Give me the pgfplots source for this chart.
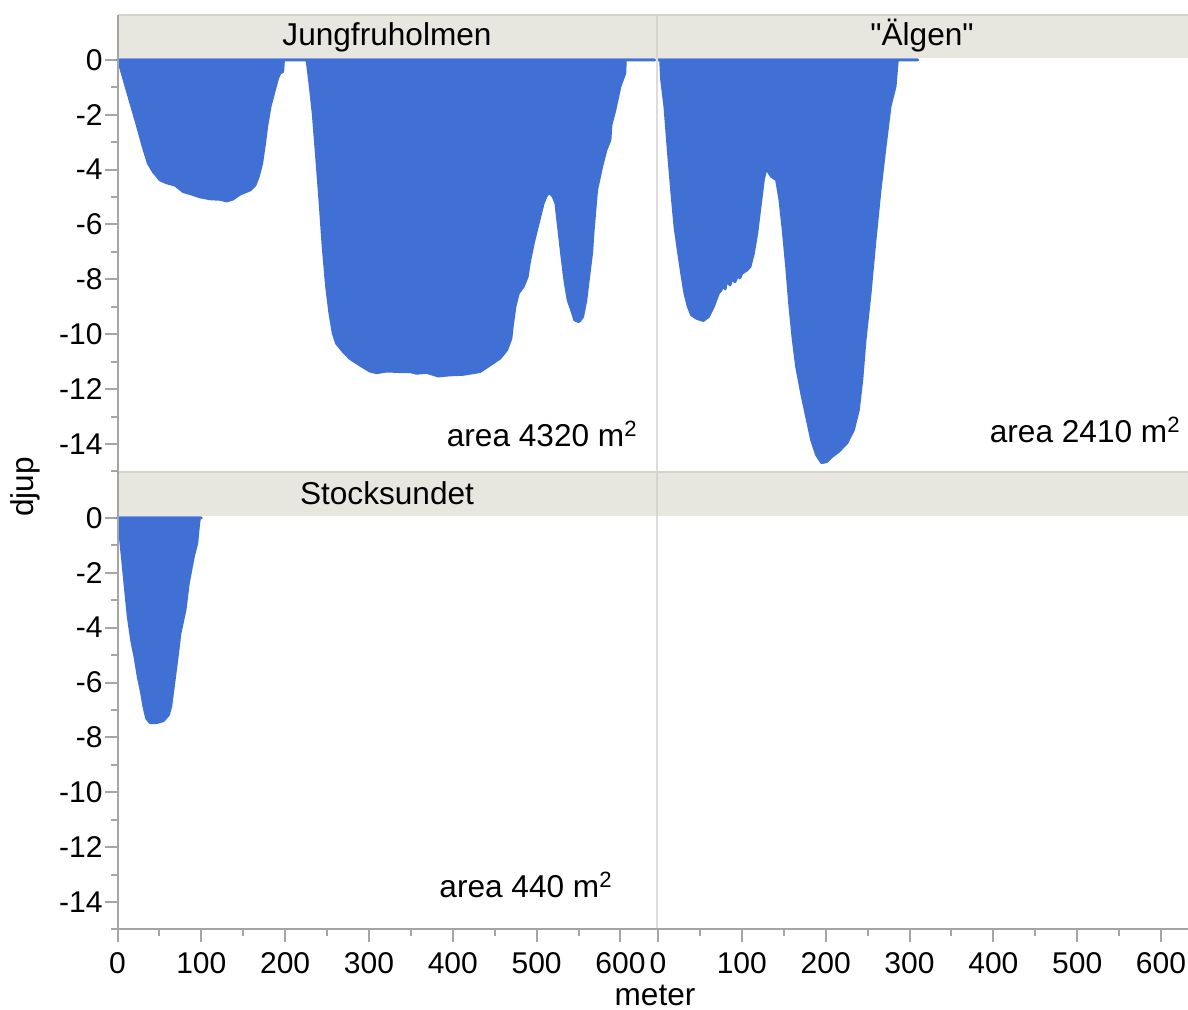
\documentclass[border=0pt]{standalone}
\usepackage{fontspec}
\setmainfont{Liberation Sans}
\usepackage{pgfplots}
\pgfplotsset{compat=1.18}
\definecolor{fillblue}{RGB}{65,112,213}
\definecolor{axgray}{RGB}{165,165,165}
\definecolor{hdrfill}{RGB}{231,231,223}
\definecolor{hdrline}{RGB}{212,212,200}
\definecolor{sepgray}{RGB}{220,220,220}
\newcommand{\fs}{\fontsize{15}{18}\selectfont}
\newcommand{\ft}{\fontsize{15.8}{19}\selectfont}
\pgfplotsset{
  panel/.style={
    scale only axis, clip=false, anchor=south west,
    xmin=0, ymin=-15, ymax=0.07,
    height=206.7pt,
    tick align=outside,
    major tick length=6.5pt, minor tick length=3.5pt,
    tick style={axgray, line width=1pt},
    axis line style={axgray, line width=1pt},
    every tick label/.append style={font=\fs, text=black},
    /pgf/number format/assume math mode=true,
    xtick={0,100,...,600}, minor xtick={50,150,...,650},
    ytick={0,-2,...,-14}, minor ytick={-1,-3,...,-15},
    xticklabel style={inner sep=0pt},
    yticklabel style={inner sep=0pt},
    xticklabel shift=5pt, yticklabel shift=0.8pt,
  },
  areaplot/.style={draw=fillblue, fill=fillblue, line width=1.5pt, line join=round},
}
\begin{document}
\begin{tikzpicture}
\path[use as bounding box] (0,0) rectangle (594pt,505pt);
% headers
\begin{scope}[x=0.5pt,y=-0.5pt,shift={(0pt,505pt)}]
  \fill[hdrfill] (117.5,15) rectangle (1188,58);
  \fill[hdrfill] (117.5,471.4) rectangle (1188,516);
  \draw[hdrline, line width=1pt] (117.5,15.5) -- (1188,15.5);
  \draw[hdrline, line width=1pt] (117.5,472) -- (1188,472);
\end{scope}

% top-left: Jungfruholmen
\begin{axis}[panel, at={(58.75pt,269.3pt)}, width=269.25pt, xmax=642.4,
  axis y line*=left, axis x line=none]
\addplot[areaplot] coordinates {
(0,0) (1,0) (3,-0.2) (6.9,-0.61) (14.9,-1.46) (22.9,-2.30) (30.8,-3.17) (36.7,-3.76)
(42.7,-4.07) (50.7,-4.37) (58.7,-4.48) (68.6,-4.56) (78.5,-4.80) (88.5,-4.89)
(98.4,-4.99) (110.3,-5.06) (122.2,-5.08) (130.2,-5.14) (137.7,-5.07) (146.1,-4.89)
(158,-4.74) (164,-4.56) (167.9,-4.25) (172,-3.76) (175.9,-2.92) (177.9,-2.43)
(181.9,-1.70) (187.8,-1.02) (191,-0.66) (193.8,-0.47) (197,-0.43) (197.7,-0.11)
(198,0) (226,0)
(226.4,-0.06) (229.6,-0.85) (233.5,-1.94) (237.6,-3.53) (241.5,-5.10) (245.4,-6.81)
(249.5,-8.26) (253.4,-9.23) (257.4,-9.96) (261.4,-10.33) (269.3,-10.63) (277.3,-10.88)
(289.2,-11.12) (301.1,-11.34) (309.1,-11.40) (321.1,-11.34) (336.9,-11.36) (348.8,-11.36)
(356.8,-11.42) (368.8,-11.39) (382.6,-11.52) (396.5,-11.48) (412.4,-11.46) (432.3,-11.36)
(444.2,-11.12) (456.2,-10.87) (464.2,-10.57) (469.3,-10.15) (470.8,-9.72) (474.1,-8.99)
(478,-8.51) (484,-8.26) (488.7,-7.90) (491.1,-7.41) (495.9,-6.68) (501.8,-5.95)
(507.8,-5.22) (511.9,-4.92) (515.8,-4.84) (519.7,-4.98) (523,-5.22) (525.7,-5.95)
(529.8,-7.05) (533.7,-8.02) (537.6,-8.75) (541.7,-9.11) (545.6,-9.48) (550.4,-9.54)
(554.8,-9.36) (558.7,-8.75) (561.5,-8.02) (565.5,-7.05) (567.4,-6.20) (571.5,-4.74)
(577.5,-3.89) (582.6,-3.28) (587.4,-2.92) (588.6,-2.37) (593.3,-1.82) (599.3,-0.97)
(605.2,-0.48) (605.6,-0.06) (606,0) (641,0)
} \closedcycle;
\end{axis}

% top-right: Älgen
\begin{axis}[panel, at={(329pt,269.3pt)}, width=265pt, xmax=632.2, hide axis]
\addplot[areaplot] coordinates {
(0,0) (3.2,0) (4.4,-0.73) (8.3,-1.70) (12.3,-3.28) (16.3,-4.74) (20.3,-6.08)
(24.2,-6.93) (28.3,-7.78) (32.2,-8.51) (36.1,-8.99) (40.2,-9.30) (46.2,-9.42)
(54,-9.50) (60,-9.36) (66,-8.99) (71.9,-8.51) (75,-8.40) (77.9,-8.14) (80,-8.35)
(81.9,-8.02) (85.9,-8.20) (88,-7.98) (91.8,-8.08) (95.8,-7.78) (97.5,-7.95)
(99.8,-7.78) (105.8,-7.66) (109.7,-7.53) (113.7,-7.05) (117.7,-6.32) (121.6,-5.35)
(125.6,-4.37) (129.6,-3.83) (131.5,-4.07) (135.5,-4.25) (141.5,-4.37) (145.5,-5.10)
(149.4,-6.20) (153.5,-7.54) (157.4,-8.99) (161.4,-10.21) (165.4,-11.18) (171.4,-12.15)
(177.3,-13.00) (183.3,-13.85) (189.3,-14.40) (195.2,-14.68) (201.2,-14.64) (207.2,-14.46)
(215,-14.28) (225.1,-13.97) (233,-13.49) (238.9,-12.76) (243,-11.67) (246.9,-10.21)
(252.9,-8.51) (258.8,-6.56) (264.8,-4.74) (270.8,-3.16) (276.7,-1.70) (282.7,-0.97)
(284.7,-0.24) (285.4,0) (310,0)
} \closedcycle;
\end{axis}

% bottom-left: Stocksundet
\begin{axis}[panel, at={(58.75pt,40.3pt)}, width=269.25pt, xmax=642.4,
  axis y line*=left, axis x line*=bottom]
\addplot[areaplot] coordinates {
(0,0) (1,0) (3,-0.56) (6.2,-1.53) (8.9,-2.38) (12.9,-3.60) (16.9,-4.45) (20.9,-5.06)
(24.8,-5.79) (28.9,-6.39) (31.6,-6.88) (34.8,-7.30) (38.8,-7.46) (46.7,-7.46)
(54.6,-7.39) (60.6,-7.18) (63.4,-6.88) (66.5,-6.15) (70.6,-5.18) (74.5,-4.20)
(80.5,-3.35) (84.4,-2.38) (90.4,-1.41) (94.5,-0.92) (96.4,-0.32) (97.6,0) (100,0)
} \closedcycle;
\end{axis}

% bottom-right: empty
\begin{axis}[panel, at={(329pt,40.3pt)}, width=265pt, xmax=632.2,
  axis x line*=bottom, axis y line=none]
\addplot[draw=none] coordinates {(0,0)};
\end{axis}

\begin{scope}[x=0.5pt,y=-0.5pt,shift={(0pt,505pt)}]
  \draw[sepgray, line width=1pt] (656.5,58) -- (656.5,471.4);
  \draw[sepgray, line width=1pt] (656.5,516) -- (656.5,929.4);
  \draw[hdrline, line width=1pt] (656.5,15) -- (656.5,58);
  \draw[hdrline, line width=1pt] (656.5,471.4) -- (656.5,516);
  \draw[axgray, line width=1pt] (117.5,15) -- (117.5,929.4);
  \draw[axgray, line width=1pt] (117.5,929.4) -- (1188,929.4);
  \node[font=\ft, anchor=base, inner sep=0pt] at (387,46) {Jungfruholmen};
  \node[font=\ft, anchor=base, inner sep=0pt] at (922,46) {\textquotedbl Älgen\textquotedbl};
  \node[font=\ft, anchor=base, inner sep=0pt] at (387,505) {Stocksundet};
  \node[font=\ft, anchor=base east, inner sep=0pt] at (638,447) {area 4320 m\textsuperscript{2}};
  \node[font=\ft, anchor=base east, inner sep=0pt] at (1181,443) {area 2410 m\textsuperscript{2}};
  \node[font=\ft, anchor=base east, inner sep=0pt] at (613,898) {area 440 m\textsuperscript{2}};
  \node[font=\ft, anchor=center, rotate=90, inner sep=0pt] at (25,487) {djup};
  \node[font=\ft, anchor=base, inner sep=0pt] at (655,1006) {meter};
\end{scope}
\end{tikzpicture}
\end{document}
